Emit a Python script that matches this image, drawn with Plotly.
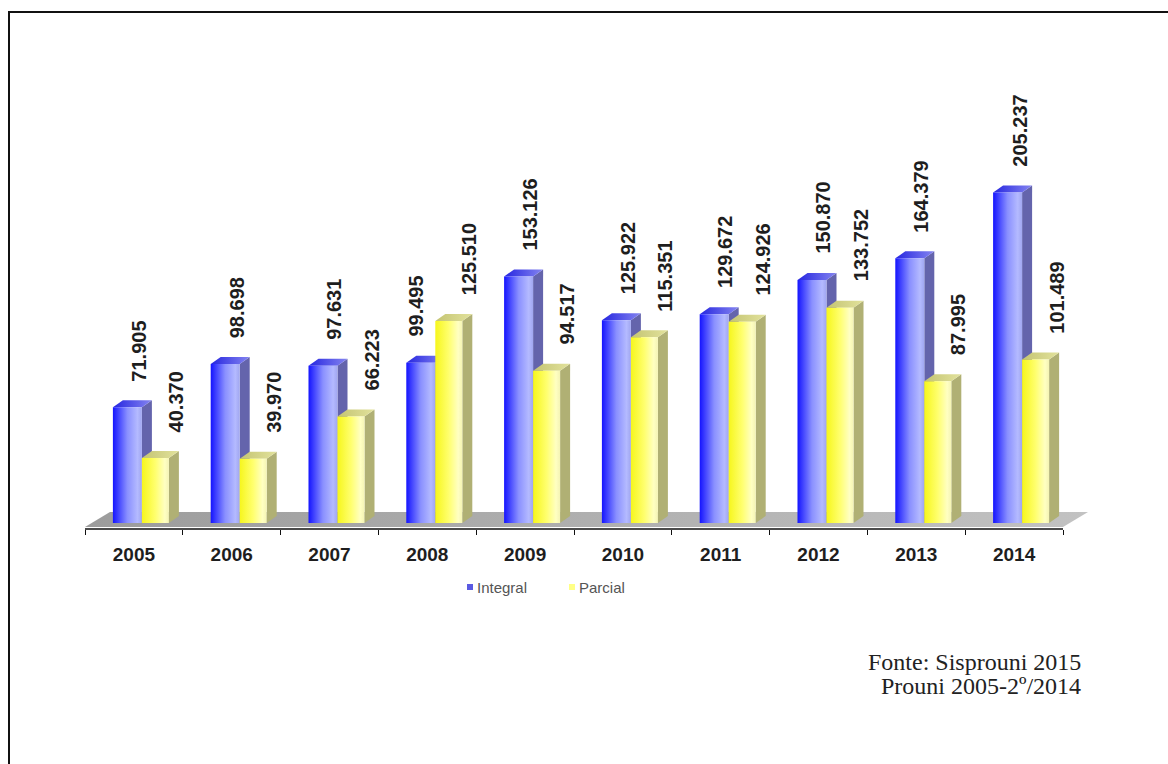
import plotly.graph_objects as go

# ---------------- data ----------------
years = ["2005", "2006", "2007", "2008", "2009", "2010", "2011", "2012", "2013", "2014"]
integral = [71905, 98698, 97631, 99495, 153126, 125922, 129672, 150870, 164379, 205237]
parcial = [40370, 39970, 66223, 125510, 94517, 115351, 124926, 133752, 87995, 101489]
series_names = ["Integral", "Parcial"]
source_lines = ["Fonte: Sisprouni 2015", "Prouni 2005-2º/2014"]

# ---------------- geometry helpers (layout constants) ----------------
W, H = 1168, 764
PLOT_L, PLOT_R, PLOT_T, PLOT_B = 85, 1090, 60, 529
PX_PER_UNIT = 97.8            # px per category
PX_PER_K = 1.61               # px per 1000 students
ZERO_PX = 523                 # pixel row of value 0
x_min = -0.5
x_max = x_min + (PLOT_R - PLOT_L) / PX_PER_UNIT
y_min = -(PLOT_B - ZERO_PX) / PX_PER_K * 1000
y_max = y_min + (PLOT_B - PLOT_T) / PX_PER_K * 1000


def ux(px):
    return px / PX_PER_UNIT


def uy(px):
    return px / PX_PER_K * 1000


def paper_x(px):
    return (px - PLOT_L) / (PLOT_R - PLOT_L)


def paper_y(py):
    return (PLOT_B - py) / (PLOT_B - PLOT_T)


DEPTH_X, DEPTH_Y = ux(10), uy(7)

styles = {
    "Integral": dict(
        left=-21, right=8, label=5, label_shifted=-11,
        front=[[0, "#1414ff"], [0.5, "#8a90ff"], [0.85, "#b4baff"], [1, "#a0a6f0"]],
        side="#6464ac",
        top=[[0, "#2626e0"], [1, "#8484f0"]],
    ),
    "Parcial": dict(
        left=8, right=35, label=42, label_shifted=42,
        front=[[0, "#f6f61c"], [0.5, "#ffff6e"], [0.85, "#ffffc2"], [1, "#f4f4b4"]],
        side="#b0b074",
        top=[[0, "#c4c472"], [1, "#e2e29c"]],
    ),
}

fig = go.Figure()


def poly(xs, ys, color=None, grad=None):
    kw = dict(x=xs + [xs[0]], y=ys + [ys[0]], mode="lines", fill="toself",
              line=dict(width=0), hoverinfo="skip", showlegend=False)
    if grad is not None:
        kw["fillgradient"] = dict(type="horizontal", colorscale=grad)
    else:
        kw["fillcolor"] = color
    fig.add_trace(go.Scatter(**kw))


# floor
fx0, fx1 = -0.5, len(years) - 0.5
f_front, f_back = uy(-4), uy(11)
poly([fx0, fx0 + ux(25), fx1 + ux(25), fx1],
     [f_front, f_back, f_back, f_front],
     grad=[[0, "#9c9c9c"], [1, "#c2c2c2"]])

annotations = []
for i in range(len(years)):
    for name, values in zip(series_names, [integral, parcial]):
        st = styles[name]
        v = values[i]
        xl, xr = i + ux(st["left"]), i + ux(st["right"])
        # side face
        poly([xr, xr + DEPTH_X, xr + DEPTH_X, xr],
             [0, DEPTH_Y, v + DEPTH_Y, v], color=st["side"])
        # top face
        poly([xl, xl + DEPTH_X, xr + DEPTH_X, xr],
             [v, v + DEPTH_Y, v + DEPTH_Y, v], grad=st["top"])
        # front face
        poly([xl, xl, xr, xr], [0, v, v, 0], grad=st["front"])
        # move the Integral label left when the Parcial bar is taller
        off = st["label_shifted"] if parcial[i] > integral[i] else st["label"]
        annotations.append(dict(
            x=i + ux(off), y=v + DEPTH_Y, xref="x", yref="y",
            text=f"{v:,}".replace(",", "."), textangle=-90, showarrow=False,
            xanchor="center", yanchor="bottom", yshift=17,
            font=dict(family="Arial, Liberation Sans", size=20, color="#1e1e1e",
                      weight="bold")))

# legend (manual, to match the original spacing)
legend_items = [("Integral", "#5a5ae2", 470), ("Parcial", "#ffff86", 572)]
shapes = []
for name, col, px in legend_items:
    shapes.append(dict(type="rect", xref="paper", yref="paper",
                       x0=paper_x(px - 3), x1=paper_x(px + 3),
                       y0=paper_y(590), y1=paper_y(584),
                       fillcolor=col, line=dict(width=0)))
    annotations.append(dict(x=paper_x(px + 5), y=paper_y(587), xref="paper", yref="paper",
                            text=name, showarrow=False, xanchor="left", yanchor="middle",
                            font=dict(family="Arial, Liberation Sans", size=15, color="#555555")))

# source text
for k, line in enumerate(source_lines):
    annotations.append(dict(x=paper_x(1083), y=paper_y(662 + 24 * k), xref="paper", yref="paper",
                            text=line, showarrow=False, xanchor="right", yanchor="middle",
                            font=dict(family="Liberation Serif, Times New Roman", size=24,
                                      color="#222222")))

# axis line
shapes.append(dict(type="line", xref="x", yref="paper", x0=-0.5, x1=len(years) - 0.5,
                   y0=0, y1=0, line=dict(color="#111111", width=1.6)))
# page border
shapes.append(dict(type="rect", xref="paper", yref="paper",
                   x0=paper_x(9), x1=paper_x(1200), y0=paper_y(12), y1=paper_y(800),
                   line=dict(color="#111111", width=2), fillcolor="rgba(0,0,0,0)"))

fig.update_layout(
    width=W, height=H,
    margin=dict(l=PLOT_L, r=W - PLOT_R, t=PLOT_T, b=H - PLOT_B, pad=0),
    paper_bgcolor="white", plot_bgcolor="white",
    showlegend=False,
    annotations=annotations, shapes=shapes,
    xaxis=dict(range=[x_min, x_max], showgrid=False, zeroline=False, showline=False,
               tickmode="array", tickvals=list(range(len(years))), ticktext=years,
               ticks="", ticklabelstandoff=12,
               tickfont=dict(family="Arial, Liberation Sans", size=19, color="#1e1e1e",
                             weight="bold"),
               minor=dict(tickmode="array",
                          tickvals=[k - 0.5 for k in range(len(years) + 1)],
                          ticks="outside", ticklen=5, tickwidth=1, tickcolor="#111111",
                          showgrid=False)),
    yaxis=dict(range=[y_min, y_max], visible=False, showgrid=False, zeroline=False),
)

fig.write_html("out.html")
